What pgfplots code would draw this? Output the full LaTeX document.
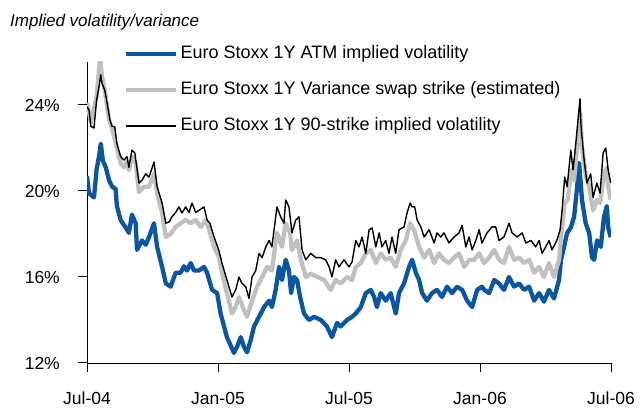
\documentclass[border=0pt]{standalone}
\usepackage{pgfplots}
\pgfplotsset{compat=1.18}
\usepackage{fontspec}
\setmainfont{Liberation Sans}
\definecolor{atmblue}{RGB}{10,86,164}
\definecolor{vargray}{RGB}{192,192,192}
\begin{document}
\begin{tikzpicture}
\useasboundingbox (0pt,0pt) rectangle (638pt,412pt);
\node[anchor=base west, inner sep=0pt, font=\fontsize{17}{20}\selectfont\itshape] at (10pt,385pt) {Implied volatility/variance};
\begin{axis}[
  at={(87pt,49pt)}, anchor=south west,
  scale only axis, width=524pt, height=301pt,
  xmin=0, xmax=24, ymin=12, ymax=26,
  axis x line*=bottom, axis y line*=left,
  axis line style={-, line width=0.9pt},
  xtick align=outside, ytick align=outside, major tick length=9pt,
  every tick/.style={black, line width=1pt},
  xtick={0,6,12,18,24},
  xticklabels={Jul-04,Jan-05,Jul-05,Jan-06,Jul-06},
  ytick={12,16,20,24},
  yticklabels={12\%,16\%,20\%,24\%},
  ticklabel style={font=\fontsize{17.5}{20}\selectfont, inner sep=0pt},
  xticklabel style={yshift=-20pt},
  yticklabel style={xshift=-18pt},
  legend style={at={(axis description cs:0.069,1.056)}, anchor=north west,
    draw=none, fill=none, inner sep=0pt, row sep=19pt, column sep=3pt,
    font=\fontsize{18}{20}\selectfont,
    nodes={inner sep=0pt, text height=13pt, text depth=4pt}},
  legend cell align=left,
  legend image code/.code={\draw[#1] (0pt,0pt) -- (50pt,0pt);},
]
% Euro Stoxx 1Y ATM implied volatility
\addplot[atmblue, line width=4.3pt, line join=round] coordinates {
(0,20.7)(0.09,19.9)(0.32,19.7)(0.44,21.0)(0.55,21.6)(0.63,22.2)(0.73,21.4)(0.86,21.1)
(1.01,20.5)(1.15,20.2)(1.31,20.1)(1.37,19.3)(1.54,18.65)(1.77,18.3)(1.92,18.05)(2.06,18.9)
(2.23,18.5)(2.29,17.26)(2.52,17.7)(2.69,17.5)(2.84,17.85)(3.07,18.5)(3.21,17.4)(3.44,16.47)
(3.61,15.7)(3.83,15.55)(4.06,16.2)(4.29,16.2)(4.44,16.5)(4.58,16.3)(4.75,16.65)(4.90,16.3)
(5.13,16.3)(5.36,16.47)(5.50,16.2)(5.73,15.4)(5.96,15.25)(6.12,14.3)(6.41,13.2)(6.73,12.47)
(6.87,12.75)(7.04,13.2)(7.19,12.75)(7.33,12.5)(7.50,13.07)(7.65,13.7)(7.88,14.15)(8.11,14.6)
(8.34,14.9)(8.47,14.6)(8.64,15.4)(8.80,16.47)(8.93,15.86)(9.10,16.8)(9.25,16.3)(9.35,15.25)
(9.48,16.0)(9.62,15.86)(9.76,15.07)(9.94,14.3)(10.17,14.0)(10.40,14.15)(10.71,14.0)(10.99,13.7)
(11.22,13.2)(11.45,13.86)(11.62,13.7)(11.91,14.0)(12.14,14.15)(12.31,14.3)(12.54,14.6)(12.77,15.25)
(13.00,15.4)(13.15,15.07)(13.28,14.6)(13.45,15.25)(13.68,14.9)(13.91,15.25)(14.14,14.3)(14.29,15.25)
(14.52,15.7)(14.75,16.47)(14.89,16.8)(15.06,16.2)(15.21,15.86)(15.35,15.25)(15.57,14.9)(15.80,15.25)
(16.03,15.4)(16.26,15.07)(16.49,15.55)(16.72,15.25)(16.95,15.55)(17.18,15.4)(17.41,14.9)(17.64,14.6)
(17.87,15.4)(18.09,15.55)(18.19,15.4)(18.42,15.25)(18.65,15.86)(18.87,15.7)(19.10,15.4)(19.33,16.0)
(19.56,15.55)(19.79,15.7)(20.02,15.4)(20.25,15.55)(20.48,14.9)(20.71,15.25)(20.93,14.85)(21.16,15.4)
(21.39,15.0)(21.62,15.86)(21.71,16.8)(21.85,17.4)(21.99,18.05)(22.16,18.3)(22.31,18.8)(22.45,20.2)
(22.54,21.3)(22.67,19.6)(22.84,18.5)(23.00,18.05)(23.13,16.9)(23.23,16.8)(23.36,17.7)(23.53,17.4)
(23.68,18.8)(23.81,19.3)(23.87,18.3)(23.99,17.85)
};
\addlegendentry{Euro Stoxx 1Y ATM implied volatility}
% Euro Stoxx 1Y Variance swap strike (estimated)
\addplot[vargray, line width=4.3pt, line join=round] coordinates {
(0,24.1)(0.18,23.2)(0.44,24.4)(0.60,26.2)(0.69,25.3)(0.81,24.7)(1.01,23.3)(1.15,22.9)
(1.37,22.0)(1.54,21.3)(1.69,21.1)(1.83,21.4)(1.92,20.97)(2.06,21.6)(2.23,21.3)(2.38,19.95)
(2.61,20.2)(2.84,20.2)(3.07,20.8)(3.21,19.9)(3.44,18.98)(3.61,17.86)(3.83,18.0)(4.06,18.33)
(4.29,18.5)(4.52,18.65)(4.75,18.5)(4.98,18.65)(5.21,18.33)(5.44,18.65)(5.59,18.2)(5.82,17.4)
(6.05,16.9)(6.18,16.2)(6.41,15.25)(6.64,14.3)(6.81,14.6)(6.96,15.07)(7.19,14.45)(7.33,14.15)
(7.56,14.9)(7.79,15.55)(8.02,16.0)(8.25,16.47)(8.47,16.3)(8.70,18.05)(8.93,17.4)(9.10,18.5)
(9.30,18.05)(9.39,17.26)(9.62,17.7)(9.80,16.8)(10.02,16.0)(10.25,16.15)(10.55,16.0)(10.86,15.86)
(11.16,15.4)(11.39,15.86)(11.62,15.7)(11.91,16.0)(12.14,15.86)(12.31,16.47)(12.54,16.65)(12.77,17.1)
(13.00,17.26)(13.23,16.65)(13.45,17.1)(13.68,16.8)(13.91,16.9)(14.14,16.47)(14.37,17.26)(14.60,17.7)
(14.80,18.5)(14.98,18.2)(15.21,17.4)(15.44,16.9)(15.67,17.26)(15.90,16.65)(16.12,17.1)(16.35,16.8)
(16.58,16.65)(16.81,16.9)(17.04,17.1)(17.27,16.47)(17.50,16.8)(17.73,16.8)(17.96,17.1)(18.19,16.65)
(18.42,16.9)(18.65,17.26)(18.87,16.8)(19.10,16.65)(19.33,17.4)(19.56,16.8)(19.79,16.9)(20.02,16.65)
(20.25,16.8)(20.48,16.2)(20.71,16.47)(20.93,16.0)(21.16,16.65)(21.39,16.0)(21.62,16.8)(21.71,17.86)
(21.88,19.44)(22.02,19.58)(22.17,20.97)(22.31,20.5)(22.45,22.05)(22.58,23.6)(22.67,22.05)(22.86,20.65)
(23.00,20.2)(23.18,19.1)(23.35,19.58)(23.50,19.44)(23.68,20.8)(23.81,21.1)(23.87,20.2)(23.99,19.58)
};
\addlegendentry{Euro Stoxx 1Y Variance swap strike (estimated)}
% Euro Stoxx 1Y 90-strike implied volatility
\addplot[black, line width=1.4pt, line join=round] coordinates {
(0,23.92)(0.09,23.77)(0.18,23.0)(0.32,22.93)(0.44,24.23)(0.55,24.85)(0.63,25.4)(0.69,25.0)
(0.81,24.7)(0.92,24.1)(1.05,23.3)(1.15,23.0)(1.27,23.0)(1.37,22.2)(1.54,21.6)(1.69,21.44)
(1.83,21.6)(1.92,21.1)(2.06,21.9)(2.19,21.77)(2.38,20.37)(2.52,20.5)(2.69,20.8)(2.84,20.65)
(3.07,21.35)(3.21,20.2)(3.44,19.44)(3.61,18.5)(3.76,18.56)(3.89,18.8)(4.06,19.0)(4.21,19.26)
(4.35,18.98)(4.52,19.26)(4.67,19.0)(4.81,19.44)(4.98,19.0)(5.13,19.1)(5.36,19.26)(5.50,18.65)
(5.63,18.5)(5.82,17.86)(6.05,17.2)(6.18,16.65)(6.41,15.86)(6.64,15.07)(6.81,15.4)(6.96,16.0)
(7.10,15.7)(7.27,15.55)(7.42,15.0)(7.56,16.0)(7.73,16.3)(7.88,17.1)(8.02,16.9)(8.19,17.4)
(8.34,17.7)(8.47,17.4)(8.70,19.26)(8.87,18.8)(9.02,18.5)(9.10,19.58)(9.25,19.26)(9.39,18.05)
(9.56,18.65)(9.71,18.8)(9.85,17.26)(10.02,16.8)(10.25,17.1)(10.48,16.9)(10.71,16.9)(10.93,16.8)
(11.09,16.47)(11.22,16.0)(11.39,16.8)(11.54,16.47)(11.77,16.8)(12.00,16.47)(12.14,16.7)(12.31,17.7)
(12.46,17.4)(12.60,17.86)(12.77,17.1)(12.92,18.2)(13.06,18.28)(13.23,17.4)(13.38,18.05)(13.51,17.4)
(13.68,17.7)(13.83,17.1)(13.97,17.86)(14.14,17.1)(14.29,18.2)(14.52,18.33)(14.66,18.98)(14.80,19.44)
(14.89,19.26)(15.01,19.26)(15.12,18.65)(15.29,18.33)(15.44,17.86)(15.67,18.2)(15.90,17.58)(16.03,18.05)
(16.20,17.86)(16.35,18.05)(16.58,17.58)(16.81,17.86)(17.04,18.05)(17.18,18.4)(17.35,17.4)(17.50,17.86)
(17.64,17.26)(17.81,17.7)(17.96,18.2)(18.09,17.58)(18.32,18.05)(18.55,18.33)(18.72,18.33)(18.87,17.7)
(19.10,17.86)(19.33,18.5)(19.47,18.05)(19.70,17.86)(19.93,18.05)(20.10,17.58)(20.33,17.7)(20.55,17.4)
(20.71,17.7)(20.84,17.1)(21.01,17.4)(21.16,17.7)(21.30,17.26)(21.52,17.7)(21.67,18.2)(21.76,19.1)
(21.88,20.65)(21.99,20.2)(22.16,21.9)(22.26,20.98)(22.39,22.23)(22.49,23.3)(22.58,24.3)(22.63,22.98)
(22.77,21.44)(22.90,20.37)(23.07,20.8)(23.18,19.7)(23.35,20.37)(23.50,19.9)(23.64,21.77)(23.76,22.0)
(23.87,20.98)(23.99,20.37)
};
\addlegendentry{Euro Stoxx 1Y 90-strike implied volatility}
\end{axis}
\end{tikzpicture}
\end{document}
